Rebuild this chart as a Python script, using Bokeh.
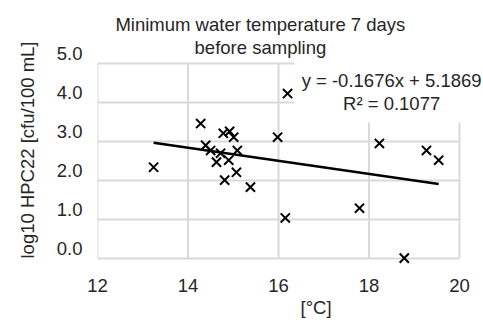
from bokeh.plotting import figure
from bokeh.models import FixedTicker, Label, BoxAnnotation, Range1d, LinearAxis, Title
from bokeh.embed import file_html
from bokeh.resources import INLINE

# ---- data ----
temperature = [13.24, 14.28, 14.39, 14.50, 14.78, 14.92, 15.01, 15.09, 14.72, 14.63, 14.90,
               15.07, 14.81, 15.38, 15.98, 16.20, 16.15, 17.79, 18.23, 19.27, 19.54, 18.78]
log_hpc22 = [2.34, 3.46, 2.90, 2.77, 3.21, 3.26, 3.11, 2.77, 2.70, 2.47, 2.52,
             2.21, 2.01, 1.83, 3.11, 4.23, 1.04, 1.29, 2.95, 2.77, 2.52, 0.01]
slope = -0.1676
intercept = 5.1869
r_squared = 0.1077
x_ticks = [12, 14, 16, 18, 20]
y_ticks = [0, 1, 2, 3, 4, 5]
y_tick_labels = ["0.0", "1.0", "2.0", "3.0", "4.0", "5.0"]
title_lines = ["Minimum water temperature 7 days", "before sampling"]
x_title = "[°C]"
y_title = "log10 HPC22 [cfu/100 mL]"

FONT = "Liberation Sans"
TXT = "#262626"
FS = "18.5px"
GRID = "#d9d9d9"

PX_X = 45.25   # pixels per x unit
PX_Y = 39.0    # pixels per y unit
xmin, xmax = x_ticks[0], x_ticks[-1]
ymin, ymax = y_ticks[0], y_ticks[-1]

# frame: left 97 .. right canvas edge, top canvas edge .. 264
BOTTOM = 264          # the 0 gridline sits at 258, the 5 gridline at 63
x_end = xmin + (483 - 97) / PX_X
y_start = ymin - (BOTTOM - 258) / PX_Y
y_end = ymax + 63 / PX_Y

p = figure(width=483, height=320, output_backend="svg", toolbar_location=None,
           x_range=Range1d(xmin, x_end), y_range=Range1d(y_start, y_end),
           y_axis_location=None,
           min_border_left=97, min_border_right=0, min_border_top=0,
           min_border_bottom=320 - BOTTOM)
p.outline_line_color = None
p.background_fill_color = None
p.border_fill_color = "white"
p.xgrid.visible = False
p.ygrid.visible = False

# gridlines from the tick arrays
p.segment(x0=[xmin] * len(y_ticks), x1=[xmax] * len(y_ticks), y0=y_ticks, y1=y_ticks,
          line_color=GRID, line_width=2)
p.segment(x0=x_ticks, x1=x_ticks, y0=[ymin] * len(x_ticks), y1=[ymax] * len(x_ticks),
          line_color=GRID, line_width=2)

# x axis
p.xaxis.ticker = FixedTicker(ticks=x_ticks)
# y axis on a range shifted so its labels sit slightly above their gridlines
shift = 10 / PX_Y
p.extra_y_ranges = {"labels": Range1d(y_start - shift, y_end - shift)}
yax = LinearAxis(y_range_name="labels", ticker=FixedTicker(ticks=y_ticks),
                 major_label_overrides={t: l for t, l in zip(y_ticks, y_tick_labels)})
p.add_layout(yax, "left")

for ax in (p.xaxis[0], yax):
    ax.axis_line_color = None
    ax.major_tick_line_color = None
    ax.minor_tick_line_color = None
    ax.major_tick_out = 0
    ax.major_tick_in = 0
    ax.major_label_text_font = FONT
    ax.major_label_text_font_size = FS
    ax.major_label_text_color = TXT

p.xaxis.major_label_standoff = 14
yax.major_label_standoff = 15

# y axis title as a side-panel title, placed from the bottom of the frame
p.add_layout(Title(text=y_title, align="left", offset=6, standoff=28, vertical_align="top",
                   text_font=FONT, text_font_size=FS, text_font_style="normal",
                   text_color=TXT), "left")

# trend line from the fitted equation over the data's x extent
x0, x1 = min(temperature), max(temperature)
p.line([x0, x1], [slope * x0 + intercept, slope * x1 + intercept],
       line_color="black", line_width=2.5)

p.scatter(temperature, log_hpc22, marker="x", size=13, line_color="black", line_width=2)

# white box behind the equation text
p.add_layout(BoxAnnotation(left=16.35, bottom=3.49, top=ymax + 0.05, fill_color="white",
                           fill_alpha=1, line_color=None))

eq1 = f"y = {slope:.4f}x + {intercept:.4f}"
eq2 = f"R\u00b2 = {r_squared:.4f}"
for txt, yy in ((eq1, 4.56), (eq2, 3.97)):
    p.add_layout(Label(x=18.5, y=yy, text=txt, text_align="center", text_baseline="middle",
                       text_font=FONT, text_font_size=FS, text_color=TXT))

# chart title, two lines
for txt, yy in ((title_lines[0], 6.0), (title_lines[1], 5.41)):
    p.add_layout(Label(x=15.6, y=yy, text=txt, text_align="center", text_baseline="middle",
                       text_font=FONT, text_font_size=FS, text_color=TXT))

# x axis title
p.add_layout(Title(text=x_title, align="left", offset=203, standoff=0,
                   text_font=FONT, text_font_size=FS, text_font_style="normal",
                   text_color=TXT), "below")

open("out.html", "w").write(file_html(p, INLINE))
